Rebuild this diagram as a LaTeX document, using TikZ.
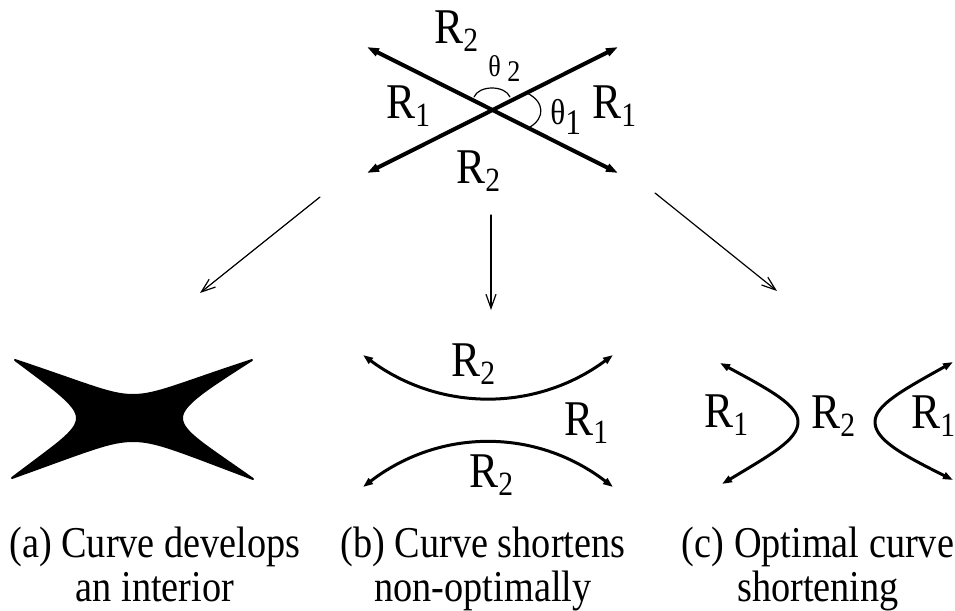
\documentclass[tikz,border=0pt]{standalone}
\usepackage{fontspec}
\setmainfont[FakeStretch=0.87]{Liberation Serif}
\usetikzlibrary{arrows.meta}

\newcommand\Rsub[1]{R\raisebox{-4pt}{\fontsize{17}{17}\selectfont#1}}

\begin{document}
\begin{tikzpicture}[x=0.5pt,y=-0.5pt,line cap=round,line join=round,
  thick arrow/.style={line width=2pt,{Triangle[length=6pt,width=4pt]}-{Triangle[length=6pt,width=4pt]}},
  curve arrow/.style={line width=1.5pt,{Triangle[length=5pt,width=3.5pt]}-{Triangle[length=5pt,width=3.5pt]}},
  step arrow/.style={line width=0.6pt,-{Straight Barb[length=7pt,width=5pt]}},
  lbl/.style={inner sep=0pt,anchor=base west,font=\fontsize{25}{25}\selectfont},
  angle lbl/.style={inner sep=0pt,anchor=base west},
  caption/.style={inner sep=0pt,anchor=north,align=center,font=\fontsize{22}{22}\selectfont}]
  \useasboundingbox (0,0) rectangle (955,611);

  % the crossing
  \coordinate (ul) at (367,47);
  \coordinate (ur) at (618,47);
  \coordinate (ll) at (367,173);
  \coordinate (lr) at (618,173);
  \draw[thick arrow] (ul) -- (lr);
  \draw[thick arrow] (ll) -- (ur);
  \draw[line width=0.6pt] (474,97) .. controls (479,85) and (505,85) .. (510,97);
  \draw[line width=0.6pt] (527,93) .. controls (545,102) and (545,118) .. (530,127);
  \node[lbl] (topR) at (434,43) {\Rsub{2}};
  \node[lbl] (leftR) at (386,118) {\Rsub{1}};
  \node[lbl] (rightR) at (592,118) {\Rsub{1}};
  \node[lbl] (botR) at (456,183) {\Rsub{2}};
  \node[angle lbl,font=\fontsize{15}{15}\selectfont] (th2) at (488,76) {θ\raisebox{-2.5pt}{ 2}};
  \node[angle lbl,font=\fontsize{18}{18}\selectfont] (th1) at (550,124) {θ\raisebox{-5pt}{1}};

  % the three outcomes
  \coordinate (fa) at (320,197);
  \coordinate (ta) at (200,293);
  \coordinate (fb) at (491,215);
  \coordinate (tb) at (491,310);
  \coordinate (fc) at (655,193);
  \coordinate (tc) at (777,291);
  \draw[step arrow] (fa) -- (ta);
  \draw[step arrow] (fb) -- (tb);
  \draw[step arrow] (fc) -- (tc);

  % (a)
  \filldraw[line width=1pt] (15,360) .. controls (90,385) and (110,395) .. (133,395)
    .. controls (156,395) and (176,385) .. (252,360)
    .. controls (205,390) and (182,405) .. (182,418)
    .. controls (182,432) and (205,445) .. (253,479)
    .. controls (176,450) and (156,441) .. (133,441)
    .. controls (110,441) and (90,450) .. (12,478)
    .. controls (55,445) and (77,432) .. (77,418)
    .. controls (77,405) and (55,390) .. cycle;

  % (b)
  \draw[curve arrow] (363,355) .. controls (440,412) and (536,412) .. (613,355);
  \draw[curve arrow] (363,487) .. controls (440,428) and (536,428) .. (613,487);
  \node[lbl] (bR2a) at (451,376) {\Rsub{2}};
  \node[lbl] (bR1) at (564,435) {\Rsub{1}};
  \node[lbl] (bR2b) at (469,487) {\Rsub{2}};

  % (c)
  \draw[curve arrow] (720,363) .. controls (770,390) and (798,405) .. (798,422)
    .. controls (798,440) and (770,455) .. (722,484);
  \draw[curve arrow] (953,362) .. controls (903,390) and (875,405) .. (875,422)
    .. controls (875,440) and (903,455) .. (953,480);
  \node[lbl] (cR1a) at (704,427) {\Rsub{1}};
  \node[lbl] (cR2) at (811,428) {\Rsub{2}};
  \node[lbl] (cR1b) at (911,428) {\Rsub{1}};

  \node[caption] (capa) at (155,527) {(a) Curve develops\\an interior};
  \node[caption] (capb) at (483,527) {(b) Curve shortens\\non-optimally};
  \node[caption] (capc) at (818,527) {(c) Optimal curve\\shortening};
\end{tikzpicture}
\end{document}
